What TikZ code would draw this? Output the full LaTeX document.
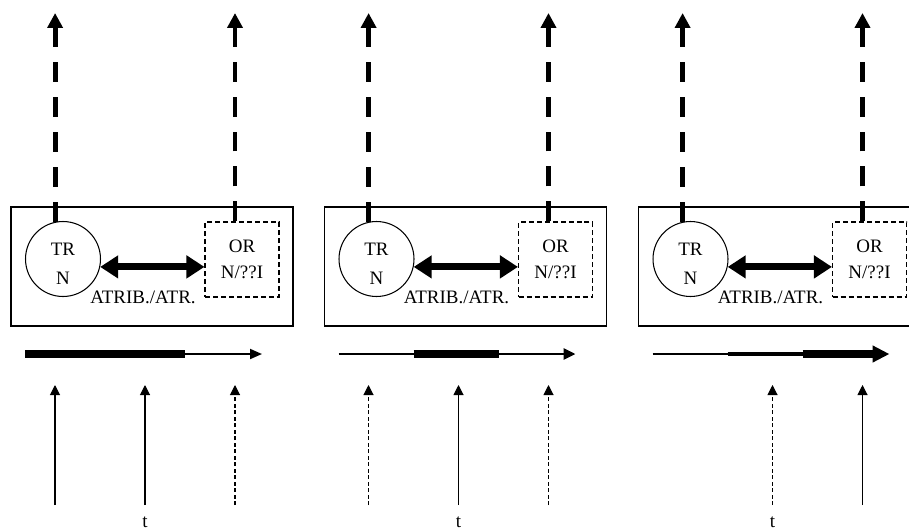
\documentclass[tikz,border=0pt]{standalone}
\usepackage{fontspec}
\setmainfont{Liberation Serif}
\usetikzlibrary{arrows.meta}
\usetikzlibrary{calc}
\newcommand{\tly}{354}
\newcommand{\boty}{505}
\newcommand{\topy}{385}
\newcommand{\shiftb}{313.5}
\newcommand{\shiftc}{627.5}
\tikzset{
  frame/.style={draw, line width=0.8pt, minimum width=5.64cm,
    minimum height=2.38cm, inner sep=0pt},
  trcirc/.style={draw, circle, line width=0.6pt, minimum size=1.5cm,
    inner sep=0pt},
  orbox/.style={draw, line width=0.6pt, dash pattern=on 0.1cm off 0.06cm,
    minimum width=1.48cm, minimum height=1.5cm, inner sep=0pt,
    align=center, font=\fontsize{10.8}{13}\selectfont},
  lbl/.style={inner sep=0pt, align=center, font=\fontsize{10.8}{13}\selectfont},
  upflow/.style={line width=2.8pt, dash pattern=on 0.4cm off 0.3cm,
    -{Triangle[width=0.3cm,length=0.3cm]}},
  relarrow/.style={line width=4pt,
    {Triangle[width=0.44cm,length=0.36cm]}-{Triangle[width=0.44cm,length=0.36cm]}},
  obs/.style={line width=0.6pt, -{Triangle[width=0.2cm,length=0.2cm]}},
  obsdash/.style={obs, dash pattern=on 0.08cm off 0.05cm}
}
\newcommand{\atrpanel}[1]{
  % frame
  \node[frame] (frame#1) at (152,266.5) {};
  % tr part
  \node[trcirc] (trn#1) at (63,259) {};
  \node[lbl] (trtxt#1) at (63,263.5) {TR\\[3.4pt]N};
  % or part
  \node[orbox] (orn#1) at (242,259.5) {OR\\[1.7pt]N/??I};
  % attribution
  \draw[relarrow] (trn#1.-12) -- (trn#1.-12 -| orn#1.west);
  \node[lbl, anchor=base] (atr#1) at (143,303) {ATRIB./ATR.};
  % upward flows
  \coordinate (upl#1) at (55,13);
  \coordinate (upr#1) at (235,13);
  \draw[upflow] (trn#1.102) -- (trn#1.102 |- upl#1);
  \draw[upflow] (orn#1.north -| upr#1) -- (upr#1);
  % time label
  \node[lbl, anchor=base] (t#1) at (145,527) {t};
}
\newcommand{\obsarrow}[3]{
  \coordinate (#1s) at (#2,\boty);
  \coordinate (#1e) at (#2,\topy);
  \draw[#3] (#1s) -- (#1e);
}

\begin{document}
\begin{tikzpicture}[x=0.02cm, y=-0.02cm, line cap=butt]
  \useasboundingbox (0,0) rectangle (909,531);
  \clip (0,0) rectangle (909,531);

  % first panel
  \begin{scope}
    \atrpanel{A}
    \coordinate (tlA1) at (25,\tly);
    \coordinate (tlA2) at (185,\tly);
    \coordinate (tlA3) at (262,\tly);
    \draw[line width=4.3pt] (tlA1) -- (tlA2);
    \draw[line width=1.1pt, -{Triangle[width=0.2cm,length=0.24cm]}]
      (tlA2) -- (tlA3);
    \obsarrow{obA1}{55}{obs}
    \obsarrow{obA2}{145}{obs}
    \obsarrow{obA3}{235}{obsdash}
  \end{scope}

  % second panel
  \begin{scope}[shift={(\shiftb,0)}]
    \atrpanel{B}
    \coordinate (tlB1) at (25,\tly);
    \coordinate (tlB2) at (100,\tly);
    \coordinate (tlB3) at (185,\tly);
    \coordinate (tlB4) at (262,\tly);
    \draw[line width=1.6pt] (tlB1) -- (tlB2);
    \draw[line width=4.3pt] (tlB2) -- (tlB3);
    \draw[line width=1.6pt, -{Triangle[width=0.22cm,length=0.24cm]}]
      (tlB3) -- (tlB4);
    \obsarrow{obB1}{55}{obsdash}
    \obsarrow{obB2}{145}{obs}
    \obsarrow{obB3}{235}{obsdash}
  \end{scope}

  % third panel
  \begin{scope}[shift={(\shiftc,0)}]
    \atrpanel{C}
    \coordinate (tlC1) at (25,\tly);
    \coordinate (tlC2) at (100,\tly);
    \coordinate (tlC3) at (175,\tly);
    \coordinate (tlC4) at (262,\tly);
    \draw[line width=0.6pt] (tlC1) -- (tlC2);
    \draw[line width=2pt] (tlC2) -- (tlC3);
    \draw[line width=4.9pt, -{Triangle[width=0.32cm,length=0.34cm]}]
      (tlC3) -- (tlC4);
    \obsarrow{obC2}{145}{obsdash}
    \obsarrow{obC3}{235}{obs}
  \end{scope}
\end{tikzpicture}
\end{document}
